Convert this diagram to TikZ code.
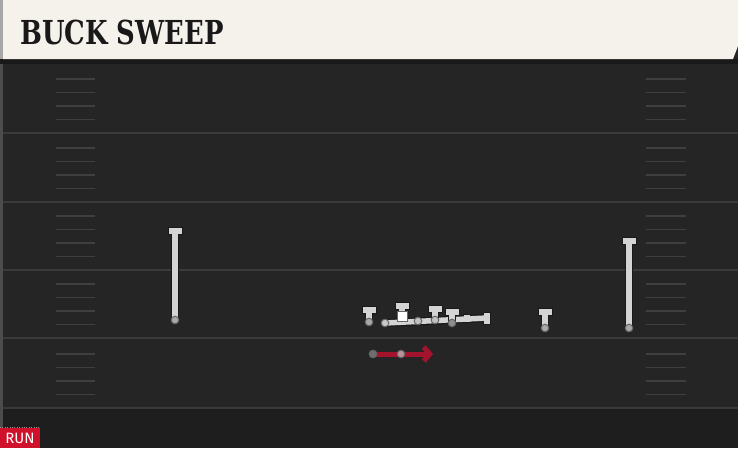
\documentclass[tikz,border=0pt]{standalone}
\usepackage{fontspec}
\usepackage{tikz}
\usetikzlibrary{arrows.meta}
\newfontfamily\titlefont{DejaVu Serif}
\newfontfamily\tagfont{Fira Sans}
\definecolor{field}{HTML}{252525}
\definecolor{fieldlow}{HTML}{1E1E1E}
\definecolor{yard}{HTML}{3A3A3A}
\definecolor{hash}{HTML}{3F3F3F}
\definecolor{cream}{HTML}{F5F2EB}
\definecolor{routegray}{HTML}{D4D4D4}
\definecolor{runred}{HTML}{A3132E}
\definecolor{tagred}{HTML}{D0112B}
\tikzset{
	outline/.style={line width=8pt, draw=black!90},
	route/.style={line width=5.5pt, draw=routegray},
	yardline/.style={line width=1.8pt, draw=yard},
	hashmark/.style={line width=1.5pt, draw=hash}
}
\newcommand{\tblock}[3] % {x}{y haut}{y bas}
{
	\draw [outline] (#1,#2) -- (#1,#3);
	\draw [outline] (#1-7.5,#2) -- (#1+7.5,#2);
	\draw [route] (#1,#2) -- (#1,#3);
	\draw [route] (#1-6.5,#2) -- (#1+6.5,#2);
}
\newcommand{\player}[3][A8A8A8] % [couleur]{x}{y}
{
	\definecolor{dotfill}{HTML}{#1}
	\draw [line width=1pt, draw=black!60, fill=dotfill] (#2,#3) circle [radius=3.8];
}
\begin{document}
\begin{tikzpicture}[x=1pt, y=-1pt]
		\useasboundingbox (0,0) rectangle (738,448);
		\fill [field] (0,0) rectangle (738,448);
		\fill [fieldlow] (0,409) rectangle (738,448);
		\fill [black!70] (0,0) rectangle (2.5,448);
		
		% lignes de yards
		\foreach \y in {133,202,270,338,408} {
			\draw [yardline] (2.5,\y) -- (738,\y);
			\foreach \k in {1,...,4} {
				\draw [hashmark] (56,\y-13.5*\k) -- (95,\y-13.5*\k);
				\draw [hashmark] (646,\y-13.5*\k) -- (686,\y-13.5*\k);
			}
		}
		
		% bandeau du titre
		\fill [black!90] (0,59) rectangle (738,64);
		\fill [black!35] (0,0) rectangle (3,59);
		\fill [cream] (3,0) -- (738,0) -- (738,46) -- (733,59) -- (3,59) -- cycle;
		\node (title) [anchor=base west, inner sep=0pt, xscale=0.785, font=\titlefont\bfseries\fontsize{33}{33}\selectfont, text=black!90] at (20,44) {BUCK SWEEP};
		
		% receveurs et tight end
		\tblock{175}{231}{320}
		\player{175}{320}
		\tblock{629}{241}{328}
		\player{629}{328}
		\tblock{369}{310}{322}
		\player{369}{322}
		\tblock{545}{312}{328}
		\player{545}{328}
		
		% ligne offensive
		\draw [outline] (385,323) -- (487,318);
		\draw [outline] (487,311.5) -- (487,324.5);
		\draw [outline] (467,313.5) -- (467,322.5);
		\draw [route] (385,323) -- (487,318);
		\draw [route] (487,312.5) -- (487,323.5);
		\draw [route] (467,314.5) -- (467,321.5);
		\tblock{402}{306}{316}
		\tblock{435}{309}{320}
		\tblock{452}{312}{322}
		\draw [line width=1pt, draw=black!60, fill=white] (397,311) rectangle (407,321);
		\player[C8C8C8]{385}{323}
		\player[C4C0C0]{418}{321}
		\player[C4C0C0]{435}{320}
		\player[8E8E8E]{452}{323}
		
		% course
		\coordinate (qb) at (373,354);
		\coordinate (rb) at (401,354);
		\coordinate (runend) at (433,354);
		\draw [line width=5pt, runred, -{Straight Barb[length=6pt, width=14pt]}] (qb) -- (runend);
		\player[6E6E6E]{373}{354}
		\player[B8949A]{401}{354}
		
		% etiquette
		\draw [dotted, black!40] (0,427) -- (40,427);
		\fill [tagred] (0,428) rectangle (40,448);
		\node (runtag) [inner sep=0pt, text=white, font=\tagfont\fontsize{15}{15}\selectfont] at (20,438.5) {RUN};
		
\end{tikzpicture}
\end{document}
